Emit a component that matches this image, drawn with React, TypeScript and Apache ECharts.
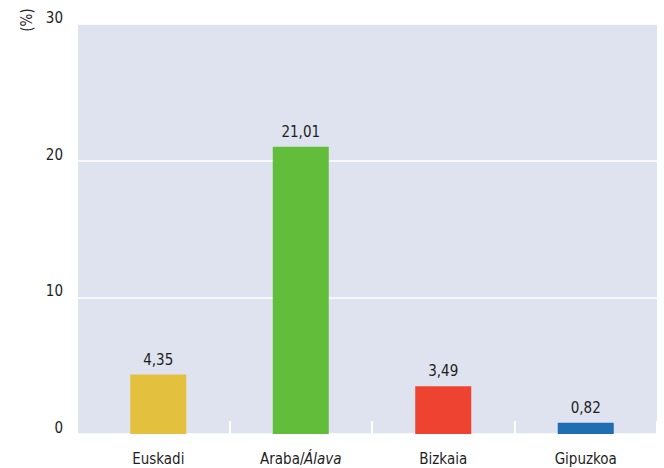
import React, { useEffect, useRef } from "react";
import * as echarts from "echarts";

const categories = ["Euskadi", "Araba/Álava", "Bizkaia", "Gipuzkoa"];
const values = [4.35, 21.01, 3.49, 0.82];
const barColors = ["#e3c13f", "#62be3a", "#ee4330", "#1f6eb2"];
const yTicks = [0, 10, 20, 30];
const unitLabel = "(%)";

// condensed DejaVu face via font-stretch
const FONT = "DejaVu Sans; font-stretch: condensed";
const TEXT = "#1e1e1e";
const FS = 15;

export default function App() {
  const ref = useRef<HTMLDivElement>(null);
  useEffect(() => {
    if (!ref.current) return;
    const chart = echarts.init(ref.current, null, { renderer: "svg" });
    const fmt = (v: number) => v.toFixed(2).replace(".", ",");
    const catLabel = (c: string) => {
      if (!c.includes("/")) return c;
      const [a, b] = c.split("/");
      return `{a|${a}/}{i|${b}}`;
    };
    chart.setOption({
      animation: false,
      backgroundColor: "#ffffff",
      textStyle: { fontFamily: FONT, color: TEXT },
      grid: [
        { left: 78, right: 7, top: 24, bottom: 34, show: true, backgroundColor: "#dee3ef", borderWidth: 0, containLabel: false },
        { left: 87, right: 7, top: 24, bottom: 34, containLabel: false },
      ],
      xAxis: [
        { type: "category", gridIndex: 0, data: categories, show: false },
        {
          type: "category",
          gridIndex: 1,
          data: categories,
          axisLine: { show: false },
          axisTick: {
            show: true,
            inside: true,
            length: 13,
            interval: (i: number) => i !== 0,
            lineStyle: { color: "#ffffff", width: 2 },
          },
          axisLabel: {
            interval: 0,
            margin: 20,
            fontSize: FS,
            fontFamily: FONT,
            color: TEXT,
            formatter: catLabel,
            rich: {
              a: { fontSize: FS, fontFamily: FONT, color: TEXT, width: 44 },
              i: { fontStyle: "italic", fontSize: FS, fontFamily: FONT, color: TEXT, width: 37 },
            },
          },
          splitLine: { show: false },
        },
      ],
      yAxis: [
        {
          type: "value",
          gridIndex: 0,
          min: yTicks[0],
          max: yTicks[yTicks.length - 1],
          interval: 10,
          axisLine: { show: false },
          axisTick: { show: false },
          axisLabel: { margin: 15, fontSize: FS, fontFamily: FONT, color: TEXT, verticalAlign: "bottom", lineHeight: 12 },
          splitLine: { show: true, lineStyle: { color: "#ffffff", width: 1.6 } },
        },
        {
          type: "value",
          gridIndex: 1,
          min: yTicks[0],
          max: yTicks[yTicks.length - 1],
          interval: 10,
          show: false,
          splitLine: { show: false },
        },
      ],
      graphic: [
        {
          type: "text",
          x: 27,
          y: 20,
          rotation: Math.PI / 2,
          style: {
            text: unitLabel,
            fontSize: FS,
            fontFamily: FONT,
            fill: TEXT,
            textAlign: "center",
            textVerticalAlign: "middle",
          },
        },
      ],
      series: [
        {
          type: "bar",
          xAxisIndex: 1,
          yAxisIndex: 1,
          barWidth: 56,
          data: values.map((v, i) => ({ value: v, itemStyle: { color: barColors[i] } })),
          label: {
            show: true,
            position: "top",
            distance: 10,
            fontSize: FS,
            fontFamily: FONT,
            color: TEXT,
            formatter: (p: any) => fmt(p.value),
          },
        },
      ],
    });
    return () => chart.dispose();
  }, []);
  return <div ref={ref} style={{ width: 664, height: 468, position: "absolute", left: 0, top: 0 }} />;
}
